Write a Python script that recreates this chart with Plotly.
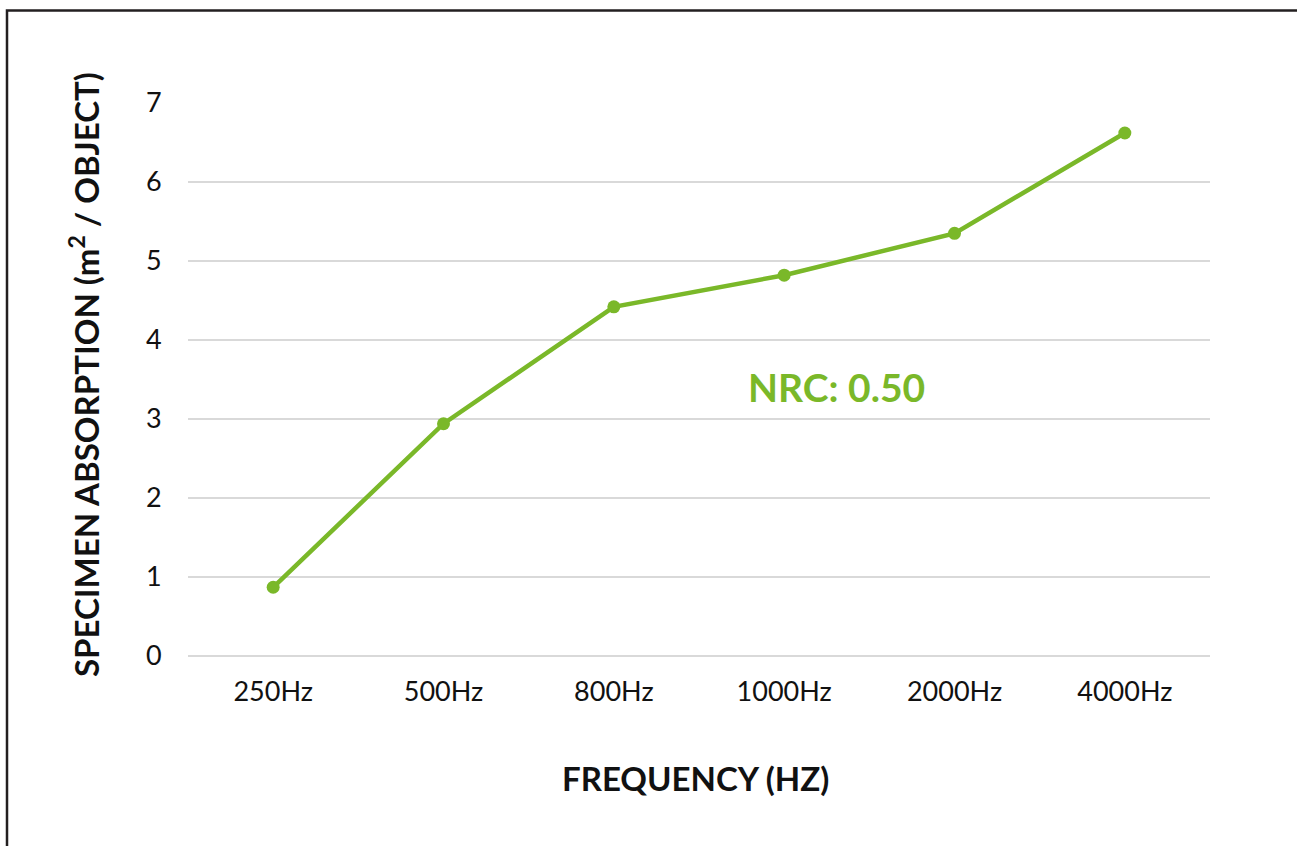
import plotly.graph_objects as go

categories = ["250Hz", "500Hz", "800Hz", "1000Hz", "2000Hz", "4000Hz"]
absorption = [0.87, 2.94, 4.42, 4.82, 5.35, 6.62]
y_ticks = [0, 1, 2, 3, 4, 5, 6, 7]

GREEN = "#7ab829"
FONT = "Lato"

L, R, T, B = 188, 1210, 103, 656
W, H = R - L, B - T

def px(x):
    return (x - L) / W

def py(y):
    return (B - y) / H

fig = go.Figure()
fig.add_trace(go.Scatter(
    x=categories, y=absorption, mode="lines+markers",
    line=dict(color=GREEN, width=4.5),
    marker=dict(color=GREEN, size=13),
    showlegend=False, hoverinfo="skip",
))

fig.update_layout(
    width=1297, height=846,
    margin=dict(l=L, r=1297 - R, t=T, b=846 - B),
    paper_bgcolor="white", plot_bgcolor="white",
    font=dict(family=FONT, color="#111111", size=27),
    xaxis=dict(
        type="category", range=[-0.5, len(categories) - 0.5],
        showgrid=False, zeroline=False, showline=False,
        ticks="outside", ticklen=12, tickcolor="rgba(0,0,0,0)",
        tickfont=dict(size=27, family=FONT, color="#111111"),
    ),
    yaxis=dict(
        range=[0, 7], tickvals=y_ticks, showgrid=True, gridcolor="#d9d9d9",
        gridwidth=2, zeroline=True, zerolinecolor="#d9d9d9", zerolinewidth=2,
        showline=False,
        ticks="outside", ticklen=20, tickcolor="rgba(0,0,0,0)",
        tickfont=dict(size=27, family=FONT, color="#111111"),
    ),
    annotations=[
        dict(text="NRC: 0.50", x=px(836), y=py(387), xref="paper", yref="paper",
             xanchor="center", yanchor="middle",
             showarrow=False, font=dict(size=39, color=GREEN, family=FONT, weight="bold")),
        dict(text="FREQUENCY (HZ)", x=px(695), y=py(778), xref="paper", yref="paper",
             xanchor="center", yanchor="middle",
             showarrow=False, font=dict(size=33, color="#111111", family=FONT, weight="bold")),
        dict(text="SPECIMEN ABSORPTION (m<sup>2</sup> / OBJECT)", x=px(84), y=py(375),
             xref="paper", yref="paper", xanchor="center", yanchor="middle",
             textangle=-90, showarrow=False,
             font=dict(size=33, color="#111111", family=FONT, weight="bold")),
    ],
    shapes=[
        dict(type="rect", xref="paper", yref="paper",
             x0=px(7), x1=px(1320), y0=py(10.5), y1=py(880),
             line=dict(color="#231f20", width=2.5), fillcolor="rgba(0,0,0,0)", layer="above"),
    ],
)

fig.write_html("out.html", config={"displayModeBar": False},
               post_script="document.body.style.margin='0px';document.body.style.padding='0px';")
